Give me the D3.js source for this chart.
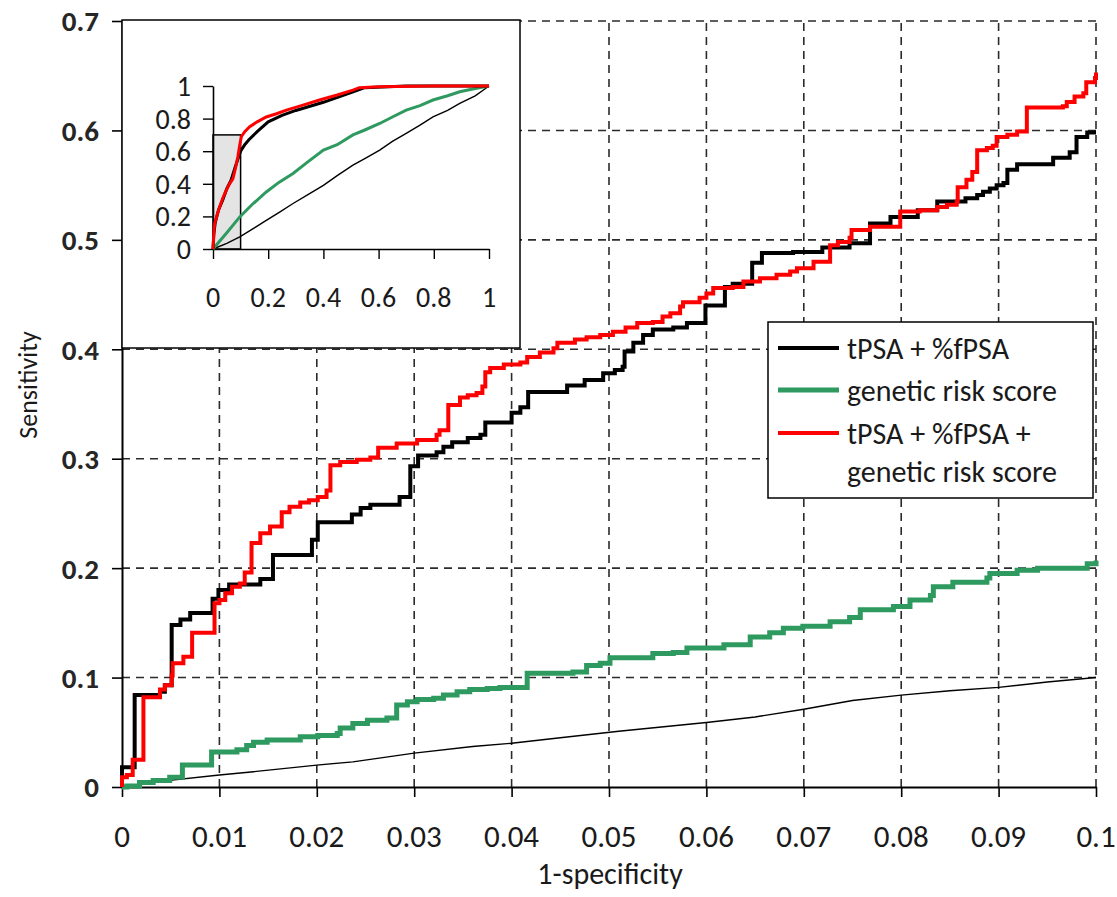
<!DOCTYPE html>
<html>
<head>
<meta charset="utf-8">
<script src="https://cdn.jsdelivr.net/npm/d3@7"></script>
<style>
  html, body { margin: 0; padding: 0; background: #fff; }
  svg { display: block; }
  text { font-family: Carlito, Lato, "Open Sans", sans-serif; fill: #1a1a1a; }
</style>
</head>
<body>
<svg id="chart" width="1117" height="897"></svg>
<script>
// ---------------- data ----------------
const xTickValues = [0, 0.01, 0.02, 0.03, 0.04, 0.05, 0.06, 0.07, 0.08, 0.09, 0.1];
const xTickLabels = ["0", "0.01", "0.02", "0.03", "0.04", "0.05", "0.06", "0.07", "0.08", "0.09", "0.1"];
const yTickValues = [0, 0.1, 0.2, 0.3, 0.4, 0.5, 0.6, 0.7];
const yTickLabels = ["0", "0.1", "0.2", "0.3", "0.4", "0.5", "0.6", "0.7"];
const insetTickValues = [0, 0.2, 0.4, 0.6, 0.8, 1];
const insetTickLabels = ["0", "0.2", "0.4", "0.6", "0.8", "1"];

const seriesNames = ["tPSA + %fPSA", "genetic risk score", "tPSA + %fPSA + genetic risk score"];
const seriesColors = ["#000000", "#2e9a5f", "#ff0000"];

// step ROC points [1-specificity, sensitivity] (zoomed region)
const psaPoints = [[0,0],[0,0.018],[0.0013,0.084],[0.0039,0.087],[0.0044,0.093],[0.0051,0.148],[0.006,0.153],[0.007,0.159],[0.0093,0.172],[0.0099,0.18],[0.011,0.185],[0.0142,0.19],[0.0155,0.212],[0.0195,0.226],[0.0201,0.242],[0.0236,0.249],[0.0245,0.255],[0.0255,0.258],[0.0285,0.265],[0.0296,0.293],[0.0304,0.303],[0.0323,0.306],[0.033,0.311],[0.0339,0.315],[0.0355,0.319],[0.0368,0.322],[0.0373,0.333],[0.04,0.342],[0.0409,0.347],[0.0417,0.361],[0.0457,0.367],[0.0475,0.372],[0.0494,0.378],[0.0506,0.381],[0.0514,0.384],[0.0516,0.398],[0.0525,0.406],[0.0535,0.413],[0.0545,0.418],[0.0566,0.42],[0.058,0.424],[0.0599,0.44],[0.0619,0.457],[0.0627,0.46],[0.0647,0.479],[0.0657,0.488],[0.0689,0.489],[0.0719,0.493],[0.0747,0.497],[0.0768,0.515],[0.0789,0.521],[0.0817,0.527],[0.0837,0.535],[0.0866,0.538],[0.0878,0.541],[0.0884,0.544],[0.0891,0.547],[0.0898,0.55],[0.0905,0.552],[0.0909,0.564],[0.0919,0.569],[0.0956,0.575],[0.0973,0.58],[0.098,0.594],[0.0991,0.598],[0.1,0.598]];

const grsPoints = [[0,0],[0.0005,0.001],[0.0018,0.004],[0.0032,0.006],[0.0049,0.009],[0.0062,0.013],[0.0062,0.02],[0.0092,0.032],[0.0118,0.034],[0.0128,0.038],[0.0135,0.041],[0.0149,0.043],[0.0183,0.046],[0.0201,0.047],[0.0221,0.049],[0.0224,0.054],[0.0237,0.058],[0.0252,0.061],[0.0272,0.063],[0.0282,0.075],[0.0293,0.078],[0.0303,0.08],[0.032,0.081],[0.033,0.084],[0.0344,0.087],[0.0357,0.089],[0.0375,0.09],[0.0388,0.091],[0.0416,0.104],[0.0463,0.105],[0.0477,0.111],[0.0491,0.113],[0.0501,0.118],[0.0545,0.122],[0.0566,0.123],[0.058,0.127],[0.0618,0.13],[0.0645,0.137],[0.0665,0.141],[0.0679,0.145],[0.0699,0.147],[0.0727,0.151],[0.0747,0.155],[0.0758,0.162],[0.0792,0.165],[0.0809,0.171],[0.083,0.175],[0.0833,0.183],[0.0853,0.187],[0.0888,0.191],[0.0891,0.195],[0.0919,0.198],[0.094,0.2],[0.098,0.2],[0.0991,0.204],[0.1,0.207]];

const combinedPoints = [[0,0],[0,0.009],[0.0005,0.011],[0.0011,0.025],[0.0022,0.082],[0.0039,0.089],[0.0044,0.093],[0.0051,0.102],[0.0052,0.113],[0.0063,0.119],[0.0072,0.141],[0.0095,0.168],[0.01,0.171],[0.0106,0.177],[0.0113,0.183],[0.0121,0.186],[0.0126,0.196],[0.0133,0.223],[0.0142,0.232],[0.0152,0.238],[0.0164,0.251],[0.0172,0.256],[0.0183,0.26],[0.0192,0.262],[0.0201,0.265],[0.021,0.271],[0.0214,0.294],[0.0224,0.297],[0.0241,0.299],[0.0255,0.301],[0.0263,0.31],[0.0282,0.314],[0.0303,0.317],[0.0323,0.322],[0.0326,0.326],[0.0335,0.349],[0.0347,0.356],[0.0355,0.358],[0.0364,0.36],[0.037,0.366],[0.0373,0.379],[0.0378,0.383],[0.0392,0.386],[0.0409,0.388],[0.0416,0.393],[0.0429,0.397],[0.0443,0.401],[0.0447,0.406],[0.0465,0.409],[0.0477,0.411],[0.0491,0.413],[0.0504,0.416],[0.0517,0.42],[0.0529,0.424],[0.0545,0.425],[0.0555,0.43],[0.0563,0.433],[0.0573,0.439],[0.0576,0.443],[0.0593,0.447],[0.06,0.451],[0.0607,0.456],[0.0627,0.457],[0.0638,0.462],[0.0655,0.465],[0.0672,0.468],[0.0686,0.471],[0.0693,0.474],[0.071,0.48],[0.0727,0.495],[0.0735,0.498],[0.0747,0.502],[0.0749,0.509],[0.0768,0.512],[0.0799,0.526],[0.0819,0.527],[0.0837,0.53],[0.0847,0.532],[0.0857,0.535],[0.0858,0.548],[0.0867,0.555],[0.0873,0.562],[0.0878,0.582],[0.0888,0.584],[0.0894,0.586],[0.0898,0.594],[0.0909,0.596],[0.0919,0.599],[0.0929,0.621],[0.0966,0.622],[0.097,0.626],[0.0978,0.631],[0.0987,0.634],[0.099,0.644],[0.0999,0.648],[0.1,0.653]];

const chancePoints = [[0,0],[0.0032,0.0045],[0.01,0.011],[0.0135,0.014],[0.02,0.02],[0.0237,0.023],[0.03,0.031],[0.036,0.037],[0.04,0.04],[0.045,0.045],[0.051,0.051],[0.06,0.059],[0.065,0.064],[0.07,0.071],[0.075,0.079],[0.08,0.084],[0.085,0.088],[0.09,0.091],[0.095,0.096],[0.1,0.1]];

// full ROC curves for the inset
const insetPsa = [[0,0],[0.003,0.09],[0.008,0.16],[0.02,0.24],[0.035,0.3],[0.05,0.37],[0.065,0.42],[0.08,0.5],[0.09,0.55],[0.1,0.6],[0.115,0.64],[0.13,0.67],[0.16,0.72],[0.2,0.78],[0.25,0.82],[0.3,0.85],[0.4,0.9],[0.5,0.96],[0.55,0.99],[0.7,1],[1,1]];
const insetCombined = [[0,0],[0.003,0.1],[0.006,0.156],[0.015,0.21],[0.024,0.258],[0.035,0.31],[0.048,0.36],[0.06,0.4],[0.072,0.43],[0.082,0.5],[0.09,0.566],[0.097,0.64],[0.103,0.69],[0.115,0.72],[0.133,0.75],[0.16,0.78],[0.193,0.81],[0.23,0.83],[0.266,0.852],[0.32,0.88],[0.386,0.914],[0.45,0.945],[0.507,0.975],[0.53,0.99],[0.6,0.995],[0.8,1],[1,1]];
const insetGrs = [[0,0],[0.05,0.1],[0.097,0.197],[0.14,0.27],[0.193,0.35],[0.24,0.41],[0.29,0.463],[0.34,0.53],[0.4,0.607],[0.45,0.64],[0.507,0.7],[0.55,0.73],[0.604,0.77],[0.65,0.81],[0.7,0.852],[0.75,0.88],[0.797,0.914],[0.85,0.94],[0.894,0.965],[0.95,0.985],[1,1]];
const insetChance = [[0,0],[0.05,0.035],[0.097,0.074],[0.15,0.13],[0.193,0.176],[0.24,0.225],[0.29,0.279],[0.35,0.34],[0.4,0.39],[0.45,0.45],[0.507,0.514],[0.55,0.555],[0.604,0.607],[0.65,0.66],[0.7,0.709],[0.75,0.76],[0.797,0.811],[0.85,0.85],[0.894,0.893],[0.95,0.94],[1,1]];
const zoomBox = [0.1, 0.7]; // region shown in main plot

// ---------------- layout ----------------
const svg = d3.select("#chart");
const M = { left: 122, right: 1096, top: 21, bottom: 787 };
const x = d3.scaleLinear().domain([0, 0.1]).range([M.left, M.right]);
const y = d3.scaleLinear().domain([0, 0.7]).range([M.bottom, M.top]);

// grid
const grid = svg.append("g").attr("stroke", "#2b2b2b").attr("stroke-width", 1.6).attr("stroke-dasharray", "8,6");
grid.selectAll(".vg").data(xTickValues.slice(1)).join("line")
  .attr("x1", d => x(d)).attr("x2", d => x(d)).attr("y1", y(0)).attr("y2", y(0.7));
grid.selectAll(".hg").data(yTickValues.slice(1)).join("line")
  .attr("y1", d => y(d)).attr("y2", d => y(d)).attr("x1", x(0)).attr("x2", x(0.1));

// axes
const xAxis = svg.append("g").attr("transform", `translate(0,${M.bottom})`)
  .call(d3.axisBottom(x).tickValues(xTickValues).tickSize(10).tickSizeOuter(0).tickFormat(""));
const yAxis = svg.append("g").attr("transform", `translate(${M.left},0)`)
  .call(d3.axisLeft(y).tickValues(yTickValues).tickSize(10).tickSizeOuter(0).tickFormat(""));
[xAxis, yAxis].forEach(a => {
  a.select(".domain").attr("stroke", "#000").attr("stroke-width", 2);
  a.selectAll(".tick line").attr("stroke", "#000").attr("stroke-width", 1.6);
});

svg.append("g").selectAll("text").data(xTickValues).join("text")
  .attr("x", d => x(d)).attr("y", 847)
  .attr("text-anchor", "middle").style("font-size", "31px")
  .text((d, i) => xTickLabels[i]);
svg.append("g").selectAll("text").data(yTickValues).join("text")
  .attr("x", 99).attr("y", d => y(d)).attr("dy", "0.36em")
  .attr("text-anchor", "end").style("font-size", "29px").style("font-weight", "bold").style("fill", "#262626")
  .text((d, i) => yTickLabels[i]);

svg.append("text").attr("x", 610).attr("y", 884).attr("text-anchor", "middle")
  .style("font-size", "30px").text("1-specificity");
svg.append("text").attr("transform", "translate(37,385) rotate(-90)").attr("text-anchor", "middle")
  .style("font-size", "26px").text("Sensitivity");

// curves
const stepLine = d3.line().x(d => x(d[0])).y(d => y(d[1])).curve(d3.curveStepAfter);
const plainLine = d3.line().x(d => x(d[0])).y(d => y(d[1]));
const curves = svg.append("g").attr("fill", "none").attr("stroke-linejoin", "miter");
curves.append("path").attr("d", plainLine(chancePoints)).attr("stroke", "#000").attr("stroke-width", 1.4);
curves.append("path").attr("d", stepLine(grsPoints)).attr("stroke", seriesColors[1]).attr("stroke-width", 5);
curves.append("path").attr("d", stepLine(psaPoints)).attr("stroke", seriesColors[0]).attr("stroke-width", 4);
curves.append("path").attr("d", stepLine(combinedPoints)).attr("stroke", seriesColors[2]).attr("stroke-width", 4);

// inset
const inset = svg.append("g");
inset.append("rect").attr("x", 122).attr("y", 20).attr("width", 398).attr("height", 328)
  .attr("fill", "#fff").attr("stroke", "#000").attr("stroke-width", 1.5);
const ix = d3.scaleLinear().domain([0, 1]).range([213, 489]);
const iy = d3.scaleLinear().domain([0, 1]).range([249, 86]);
inset.append("rect").attr("x", ix(0)).attr("y", iy(zoomBox[1]))
  .attr("width", ix(zoomBox[0]) - ix(0)).attr("height", iy(0) - iy(zoomBox[1]))
  .attr("fill", "#e4e4e4").attr("stroke", "#000").attr("stroke-width", 1.5);
const ixAxis = inset.append("g").attr("transform", `translate(0,${iy(0)})`)
  .call(d3.axisBottom(ix).tickValues(insetTickValues).tickSize(10).tickSizeOuter(0).tickFormat(""));
const iyAxis = inset.append("g").attr("transform", `translate(${ix(0)},0)`)
  .call(d3.axisLeft(iy).tickValues(insetTickValues).tickSize(10).tickSizeOuter(0).tickFormat(""));
[ixAxis, iyAxis].forEach(a => {
  a.select(".domain").attr("stroke", "#000").attr("stroke-width", 1.6);
  a.selectAll(".tick line").attr("stroke", "#000").attr("stroke-width", 1.4);
});
inset.append("g").selectAll("text").data(insetTickValues).join("text")
  .attr("x", d => ix(d)).attr("y", 307).attr("text-anchor", "middle").style("font-size", "28px")
  .text((d, i) => insetTickLabels[i]);
inset.append("g").selectAll("text").data(insetTickValues).join("text")
  .attr("x", 191).attr("y", d => iy(d)).attr("dy", "0.36em").attr("text-anchor", "end").style("font-size", "28px")
  .text((d, i) => insetTickLabels[i]);
const iLine = d3.line().x(d => ix(d[0])).y(d => iy(d[1]));
const ic = inset.append("g").attr("fill", "none");
ic.append("path").attr("d", iLine(insetChance)).attr("stroke", "#000").attr("stroke-width", 1.4);
ic.append("path").attr("d", iLine(insetGrs)).attr("stroke", seriesColors[1]).attr("stroke-width", 3);
ic.append("path").attr("d", iLine(insetPsa)).attr("stroke", seriesColors[0]).attr("stroke-width", 3);
ic.append("path").attr("d", iLine(insetCombined)).attr("stroke", seriesColors[2]).attr("stroke-width", 3);

// legend
const lg = svg.append("g");
lg.append("rect").attr("x", 768).attr("y", 322).attr("width", 325).attr("height", 176)
  .attr("fill", "#fff").attr("stroke", "#000").attr("stroke-width", 1.5);
const legendRows = [
  { color: seriesColors[0], w: 4, y: 348, lines: ["tPSA + %fPSA"] },
  { color: seriesColors[1], w: 5, y: 390, lines: ["genetic risk score"] },
  { color: seriesColors[2], w: 4, y: 433, lines: ["tPSA + %fPSA +", "genetic risk score"] }
];
legendRows.forEach(r => {
  lg.append("line").attr("x1", 778).attr("x2", 839).attr("y1", r.y).attr("y2", r.y)
    .attr("stroke", r.color).attr("stroke-width", r.w);
  r.lines.forEach((t, k) => {
    lg.append("text").attr("x", 847).attr("y", r.y + k * 38).attr("dy", "0.35em")
      .style("font-size", "30px").text(t);
  });
});
</script>
</body>
</html>
